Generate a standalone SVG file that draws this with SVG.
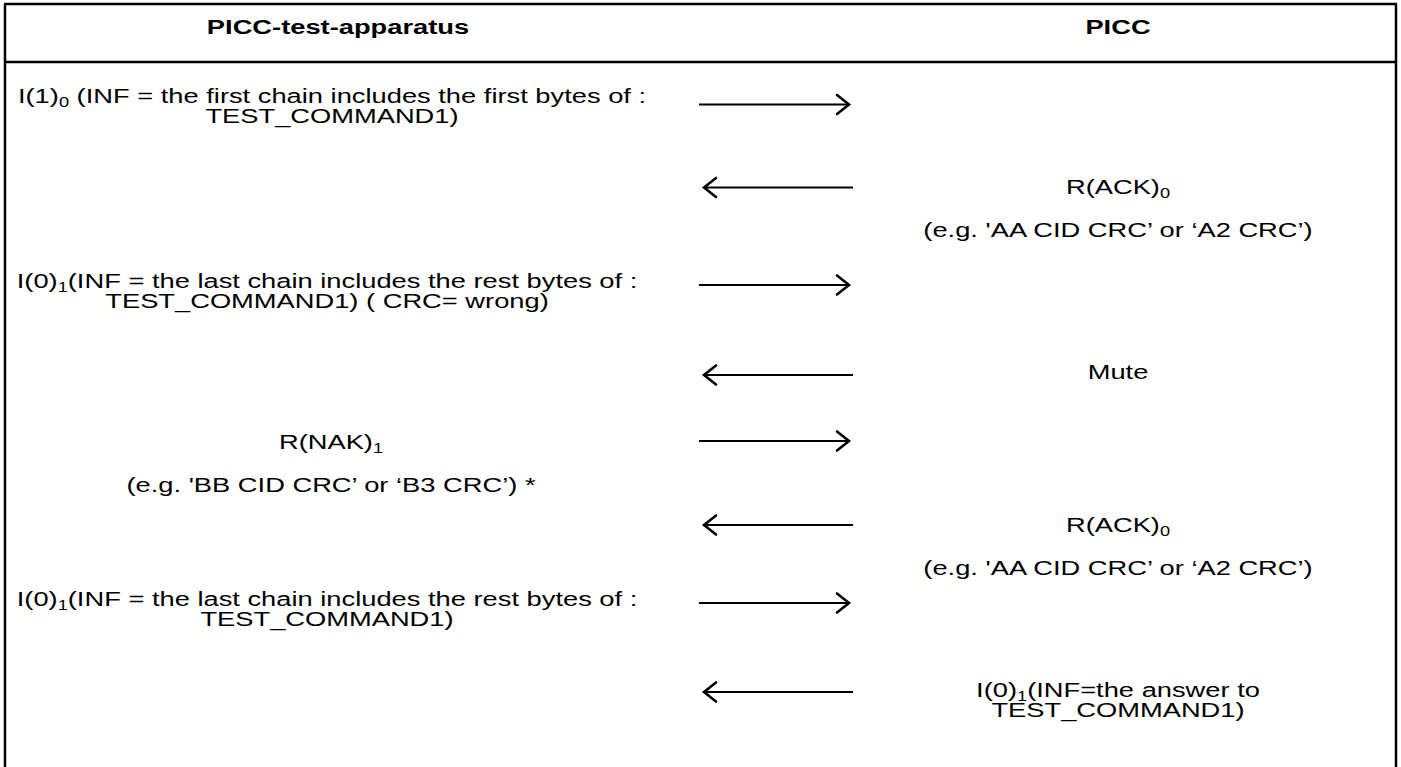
<svg xmlns="http://www.w3.org/2000/svg" width="1401" height="767" viewBox="0 0 1401 767">
<style>
.frame{stroke:#000;stroke-width:2.5;fill:none}
.t{font-family:"Liberation Sans",Arial,sans-serif;font-size:21px;fill:#000;text-anchor:middle}
.b{font-weight:bold}
.arr{stroke:#000;stroke-width:2.2;fill:none}
.head{stroke:#000;stroke-width:2.6;fill:none;stroke-linecap:round;stroke-linejoin:miter}
</style>
<rect width="1401" height="767" fill="#fff"/>
<g id="table">
<path class="frame" d="M4 4H1397M5 4V767M1396 4V767M4 62H1397"/>
</g>
<g id="header-left"><text class="t b" transform="matrix(1.3 0 0 1 338 34)">PICC-test-apparatus</text></g>
<g id="header-right"><text class="t b" transform="matrix(1.3 0 0 1 1118 34)">PICC</text></g>

<g id="msg1">
<text class="t" transform="matrix(1.3 0 0 1 332 103)">I(1)<tspan font-size="14" dy="4">0</tspan><tspan dy="-4"> (INF = the first chain includes the first bytes of :</tspan></text>
<text class="t" transform="matrix(1.3 0 0 1 332 123)">TEST_COMMAND1)</text>
</g>
<g id="msg2">
<text class="t" transform="matrix(1.3 0 0 1 1118 194)">R(ACK)<tspan font-size="14" dy="4">0</tspan></text>
<text class="t" transform="matrix(1.3 0 0 1 1118 237)">(e.g. 'AA CID CRC’ or ‘A2 CRC’)</text>
</g>
<g id="msg3">
<text class="t" transform="matrix(1.3 0 0 1 327 288)">I(0)<tspan font-size="14" dy="4">1</tspan><tspan dy="-4">(INF = the last chain includes the rest bytes of :</tspan></text>
<text class="t" transform="matrix(1.3 0 0 1 327 308)">TEST_COMMAND1) ( CRC= wrong)</text>
</g>
<g id="msg4">
<text class="t" transform="matrix(1.3 0 0 1 1118 379)">Mute</text>
</g>
<g id="msg5">
<text class="t" transform="matrix(1.3 0 0 1 331 449)">R(NAK)<tspan font-size="14" dy="4">1</tspan></text>
<text class="t" transform="matrix(1.3 0 0 1 331 492)">(e.g. 'BB CID CRC’ or ‘B3 CRC’) *</text>
</g>
<g id="msg6">
<text class="t" transform="matrix(1.3 0 0 1 1118 532)">R(ACK)<tspan font-size="14" dy="4">0</tspan></text>
<text class="t" transform="matrix(1.3 0 0 1 1118 575)">(e.g. 'AA CID CRC’ or ‘A2 CRC’)</text>
</g>
<g id="msg7">
<text class="t" transform="matrix(1.3 0 0 1 327 606)">I(0)<tspan font-size="14" dy="4">1</tspan><tspan dy="-4">(INF = the last chain includes the rest bytes of :</tspan></text>
<text class="t" transform="matrix(1.3 0 0 1 327 626)">TEST_COMMAND1)</text>
</g>
<g id="msg8">
<text class="t" transform="matrix(1.3 0 0 1 1118 697)">I(0)<tspan font-size="14" dy="4">1</tspan><tspan dy="-4">(INF=the answer to</tspan></text>
<text class="t" transform="matrix(1.3 0 0 1 1118 717)">TEST_COMMAND1)</text>
</g>

<g id="connectors">
<path class="arr" d="M699 104.5H849"/><path class="head" d="M837 95L849 104.5L837 114"/>
<path class="arr" d="M704 187.5H853"/><path class="head" d="M716 178L704 187.5L716 197"/>
<path class="arr" d="M699 285H849"/><path class="head" d="M837 275.5L849 285L837 294.5"/>
<path class="arr" d="M704 375H853"/><path class="head" d="M716 365.5L704 375L716 384.5"/>
<path class="arr" d="M699 441H849"/><path class="head" d="M837 431.5L849 441L837 450.5"/>
<path class="arr" d="M704 525H853"/><path class="head" d="M716 515.5L704 525L716 534.5"/>
<path class="arr" d="M699 603H849"/><path class="head" d="M837 593.5L849 603L837 612.5"/>
<path class="arr" d="M704 692H853"/><path class="head" d="M716 682.5L704 692L716 701.5"/>
</g>
</svg>
